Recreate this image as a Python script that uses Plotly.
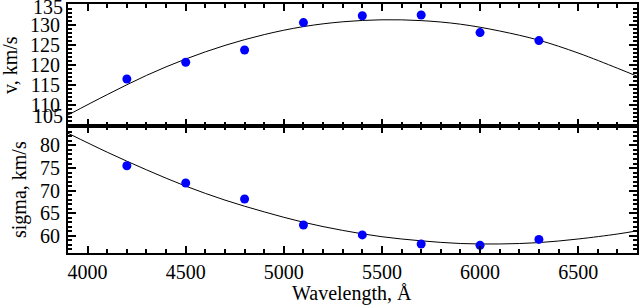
import plotly.graph_objects as go
from plotly.subplots import make_subplots

# Measured points
wavelength = [4200, 4500, 4800, 5100, 5400, 5700, 6000, 6300]
velocity = [116.5, 120.7, 123.75, 130.6, 132.3, 132.5, 128.1, 126.1]
sigma = [75.5, 71.7, 68.15, 62.4, 60.2, 58.2, 57.9, 59.2]

# Fitted curves
curve_wavelength = [3900, 4100, 4300, 4500, 4700, 4900, 5100, 5300, 5500,
                    5700, 5900, 6100, 6300, 6500, 6700, 6800]
curve_velocity = [107.5, 112.6, 117.4, 121.5, 124.9, 127.6, 129.6, 130.8, 131.3,
                  131.1, 130.2, 128.5, 126.2, 123.0, 119.2, 117.2]
curve_sigma = [82.7, 78.5, 74.6, 71.0, 67.9, 65.3, 63.0, 61.2, 59.8,
               58.9, 58.3, 58.2, 58.5, 59.3, 60.4, 61.1]

# Tick labels
x_ticks = [4000, 4500, 5000, 5500, 6000, 6500]
v_ticks = [105, 110, 115, 120, 125, 130, 135]
s_ticks = [60, 65, 70, 75, 80]

x_range = [3900, 6800]
v_range = [104.75, 135.25]
s_range = [56.2, 84.3]

FONT = "Liberation Serif"

fig = make_subplots(rows=2, cols=1, shared_xaxes=True, vertical_spacing=0,
                    row_heights=[122, 127])

fig.add_trace(go.Scatter(x=curve_wavelength, y=curve_velocity, mode="lines",
                         line=dict(color="black", width=1, shape="spline"),
                         showlegend=False), row=1, col=1)
fig.add_trace(go.Scatter(x=wavelength, y=velocity, mode="markers",
                         marker=dict(color="#0000ff", size=9),
                         showlegend=False), row=1, col=1)
fig.add_trace(go.Scatter(x=curve_wavelength, y=curve_sigma, mode="lines",
                         line=dict(color="black", width=1, shape="spline"),
                         showlegend=False), row=2, col=1)
fig.add_trace(go.Scatter(x=wavelength, y=sigma, mode="markers",
                         marker=dict(color="#0000ff", size=9),
                         showlegend=False), row=2, col=1)

axis_common = dict(
    showgrid=False, zeroline=False, showline=True, linecolor="black", linewidth=2,
    mirror="ticks", ticks="inside", tickcolor="black", tickwidth=2,
    tickfont=dict(family=FONT, size=20, color="black"),
    automargin=False, ticklabeloverflow="allow",
)

fig.update_xaxes(range=x_range, tickvals=x_ticks,
                 ticktext=[str(t) for t in x_ticks], ticklen=7,
                 minor=dict(dtick=100, tick0=0, ticks="inside", ticklen=4,
                            tickwidth=1.5, tickcolor="black"),
                 **axis_common)
fig.update_xaxes(showticklabels=False, row=1, col=1)
fig.update_yaxes(ticklen=8, ticklabelstandoff=2,
                 minor=dict(dtick=1, tick0=0, ticks="inside", ticklen=4,
                            tickwidth=1.5, tickcolor="black"),
                 **axis_common)
# the end labels (105, 135) are nudged inside the panel, as in the reference;
# they are drawn as annotations below
fig.update_yaxes(range=v_range, tickvals=v_ticks,
                 ticktext=[""] + [str(t) for t in v_ticks[1:-1]] + [""],
                 row=1, col=1)
fig.update_yaxes(range=s_range, tickvals=s_ticks,
                 ticktext=[str(t) for t in s_ticks], row=2, col=1)

W, H = 639, 308
ml, mr, mt, mb = 68, 2, 4, 55
pw = W - ml - mr
ph = H - mt - mb

def px_x(x):
    return (x - ml) / pw

def px_y(y):
    return (H - mb - y) / ph

for label, ypix in ((v_ticks[-1], 7), (v_ticks[0], 115.5)):
    fig.add_annotation(text=str(label), xref="paper", yref="paper",
                       x=px_x(64), y=px_y(ypix), showarrow=False, borderpad=0,
                       xanchor="right", yanchor="middle",
                       font=dict(family=FONT, size=20, color="black"))
fig.add_annotation(text="v, km/s", xref="paper", yref="paper",
                   x=px_x(10), y=px_y(65), textangle=-90, showarrow=False,
                   xanchor="center", yanchor="middle",
                   font=dict(family=FONT, size=20, color="black"))
fig.add_annotation(text="sigma, km/s", xref="paper", yref="paper",
                   x=px_x(19), y=px_y(190), textangle=-90, showarrow=False,
                   xanchor="center", yanchor="middle",
                   font=dict(family=FONT, size=20, color="black"))
fig.add_annotation(text="Wavelength, Å", xref="paper", yref="paper",
                   x=px_x(352), y=px_y(293), showarrow=False,
                   xanchor="center", yanchor="middle",
                   font=dict(family=FONT, size=20, color="black"))

fig.update_layout(width=W, height=H, margin=dict(l=ml, r=mr, t=mt, b=mb),
                  paper_bgcolor="white", plot_bgcolor="white")

fig.write_html("out.html", config={"displayModeBar": False},
               post_script="document.body.style.margin='0';"
                           "document.body.style.overflow='hidden';")
